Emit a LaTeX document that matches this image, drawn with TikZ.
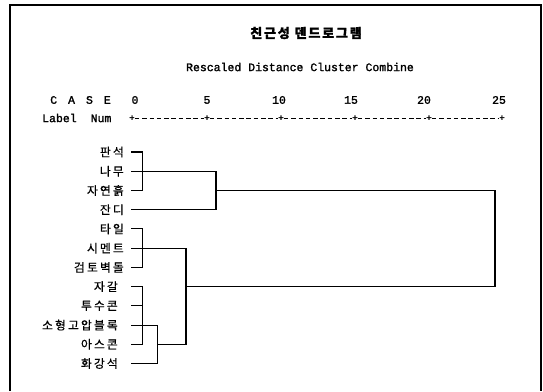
\documentclass[tikz,border=0pt]{standalone}
\usepackage{fontspec}
\setmainfont{Liberation Serif}
\newfontfamily\kr[LetterSpace=18,FakeBold=0.6]{Noto Sans CJK KR}
\newfontfamily\krt[LetterSpace=14,FakeBold=1.5]{Noto Sans CJK KR}
\newfontfamily\mono[FakeBold=1.6]{Liberation Mono}
\begin{document}
\begin{tikzpicture}[x=1pt,y=-1pt,
  lab/.style={font=\kr\fontsize{11.8}{12}\selectfont, anchor=east, inner sep=0pt},
  mtxt/.style={font=\mono\fontsize{11.5}{12}\selectfont, inner sep=0pt},
  tick/.style={font=\mono\fontsize{9}{9}\selectfont, inner sep=0pt},
  br/.style={line width=1.1pt, line cap=rect},
  axisdash/.style={line width=0.8pt, dash pattern=on 4.5pt off 2.8pt}]
\useasboundingbox (0,0) rectangle (543,391);
% frame
\draw[line width=1.1pt] (10,391) -- (10,5) -- (541,5) -- (541,391);
% titles
\node[font=\krt\bfseries\fontsize{13}{13}\selectfont, inner sep=0pt] (title) at (306,33) {친근성 덴드로그램};
\node[mtxt] (sub) at (300,67) {Rescaled Distance Cluster Combine};
\node[mtxt, anchor=west] (case) at (50,100) {{\spaceskip=11pt C A S E}};
\node[mtxt, anchor=west] (labnum) at (42,118) {Label{\spaceskip=14pt{} }Num};
% axis numbers
\node[mtxt] (n0) at (135,100) {0};
\node[mtxt] (n5) at (207,100) {5};
\node[mtxt] (n10) at (279,100) {10};
\node[mtxt] (n15) at (351,100) {15};
\node[mtxt] (n20) at (424,100) {20};
\node[mtxt] (n25) at (499,100) {25};
% axis ticks
\node[tick] (p0) at (132,118) {+};
\node[tick] (p1) at (207,118) {+};
\node[tick] (p2) at (281,118) {+};
\node[tick] (p3) at (355,118) {+};
\node[tick] (p4) at (429,118) {+};
\node[tick] (p5) at (502,118) {+};
\draw[axisdash] (p0.east) -- (p1.west);
\draw[axisdash] (p1.east) -- (p2.west);
\draw[axisdash] (p2.east) -- (p3.west);
\draw[axisdash] (p3.east) -- (p4.west);
\draw[axisdash] (p4.east) -- (p5.west);
% labels
\node[lab] (l1) at (124,152) {판석};
\node[lab] (l2) at (124,171.2) {나무};
\node[lab] (l3) at (124,190.5) {자연흙};
\node[lab] (l4) at (124,209.7) {잔디};
\node[lab] (l5) at (124,228.9) {타일};
\node[lab] (l6) at (124,248.2) {시멘트};
\node[lab] (l7) at (124,267.4) {검토벽돌};
\node[lab] (l8) at (118,286.6) {자갈};
\node[lab] (l9) at (118,305.8) {투수콘};
\node[lab] (l10) at (118,325.1) {소형고압블록};
\node[lab] (l11) at (118,344.3) {아스콘};
\node[lab] (l12) at (118,363.5) {화강석};
% leaf starts
\coordinate (s1) at (132,152);
\coordinate (s2) at (132,171.2);
\coordinate (s3) at (132,190.5);
\coordinate (s4) at (132,209.7);
\coordinate (s5) at (132,228.9);
\coordinate (s6) at (132,248.2);
\coordinate (s7) at (132,267.4);
\coordinate (s8) at (132,286.6);
\coordinate (s9) at (132,305.8);
\coordinate (s10) at (132,325.1);
\coordinate (s11) at (132,344.3);
\coordinate (s12) at (132,363.5);
% merge corners
\coordinate (cA) at (142.5,190.5);
\coordinate (cB) at (216,209.7);
\coordinate (jA) at (216,190.5);
\coordinate (cF) at (495,286.6);
\coordinate (jB) at (186,286.6);
\coordinate (cC) at (142.5,267.4);
\coordinate (cD) at (186,344.3);
\coordinate (jC) at (157.5,344.3);
\coordinate (cE) at (142.5,344.3);
\coordinate (t9) at (142.5,305.8);
\coordinate (cG) at (157.5,363.5);
% tree
\draw[br] (s1) -| (cA) -- (s3);
\draw[br] (s2) -| (cB) -- (s4);
\draw[br] (jA) -| (cF) -- (jB);
\draw[br] (s5) -| (cC) -- (s7);
\draw[br] (s6) -| (cD) -- (jC);
\draw[br] (s8) -| (cE) -- (s11);
\draw[br] (s9) -- (t9);
\draw[br] (s10) -| (cG) -- (s12);
\end{tikzpicture}
\end{document}
